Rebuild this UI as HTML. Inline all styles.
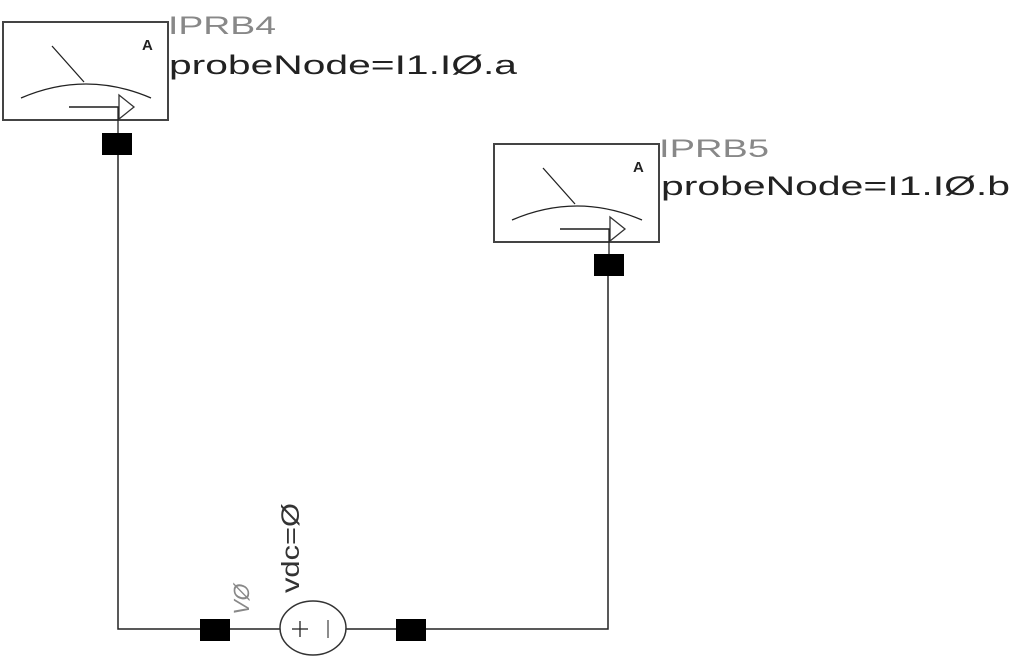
<!DOCTYPE html>
<html><head><meta charset="utf-8"><style>
html,body{margin:0;padding:0;background:#fff;}
svg{display:block;}
text{font-family:"Liberation Sans",sans-serif;}
</style></head><body>
<svg width="1023" height="666" viewBox="0 0 1023 666" xmlns="http://www.w3.org/2000/svg">
<defs>
<g id="meter">
  <rect x="0" y="0" width="165" height="98" fill="#fff" stroke="#444" stroke-width="2"/>
  <line x1="49" y1="24" x2="81" y2="60" stroke="#222" stroke-width="1.3"/>
  <path d="M18 76 Q83 48 148 76" fill="none" stroke="#222" stroke-width="1.3"/>
  <line x1="66" y1="85" x2="116" y2="85" stroke="#555" stroke-width="2"/>
  <path d="M116 73 L131 85 L116 97 Z" fill="none" stroke="#333" stroke-width="1.3"/>
  <line x1="115" y1="85" x2="115" y2="112" stroke="#222" stroke-width="1.3"/>
  <text x="139" y="28" font-size="15" font-weight="bold" fill="#222">A</text>
</g>
</defs>
<use href="#meter" x="3" y="22"/>
<use href="#meter" x="494" y="144"/>
<polyline points="118,134 118,629 608,629 608,266" fill="none" stroke="#222" stroke-width="1.5"/>
<rect x="102" y="133" width="30" height="22" fill="#000"/>
<rect x="594" y="254" width="30" height="22" fill="#000"/>
<rect x="200" y="619" width="30" height="22" fill="#000"/>
<rect x="396" y="619" width="30" height="22" fill="#000"/>
<ellipse cx="313" cy="628" rx="33" ry="27" fill="#fff" stroke="#333" stroke-width="1.5"/>
<line x1="292" y1="629" x2="308" y2="629" stroke="#222" stroke-width="1.3"/>
<line x1="300" y1="621" x2="300" y2="637" stroke="#222" stroke-width="1.3"/>
<line x1="328" y1="620" x2="328" y2="638" stroke="#666" stroke-width="1.5"/>
<text x="168" y="34" font-size="25" fill="#888" textLength="108" lengthAdjust="spacingAndGlyphs">IPRB4</text>
<text x="169" y="74" font-size="27" fill="#222" textLength="348" lengthAdjust="spacingAndGlyphs">probeNode=I1.IØ.a</text>
<text x="659" y="157" font-size="25" fill="#888" textLength="110" lengthAdjust="spacingAndGlyphs">IPRB5</text>
<text x="661" y="195" font-size="27" fill="#222" textLength="349" lengthAdjust="spacingAndGlyphs">probeNode=I1.IØ.b</text>
<text transform="translate(299,593) rotate(-90)" font-size="25" fill="#333" textLength="90" lengthAdjust="spacingAndGlyphs">vdc=Ø</text>
<text transform="translate(249,616) rotate(-90) skewX(-12)" font-size="22" fill="#888" textLength="31" lengthAdjust="spacingAndGlyphs">VØ</text>
</svg>
</body></html>
